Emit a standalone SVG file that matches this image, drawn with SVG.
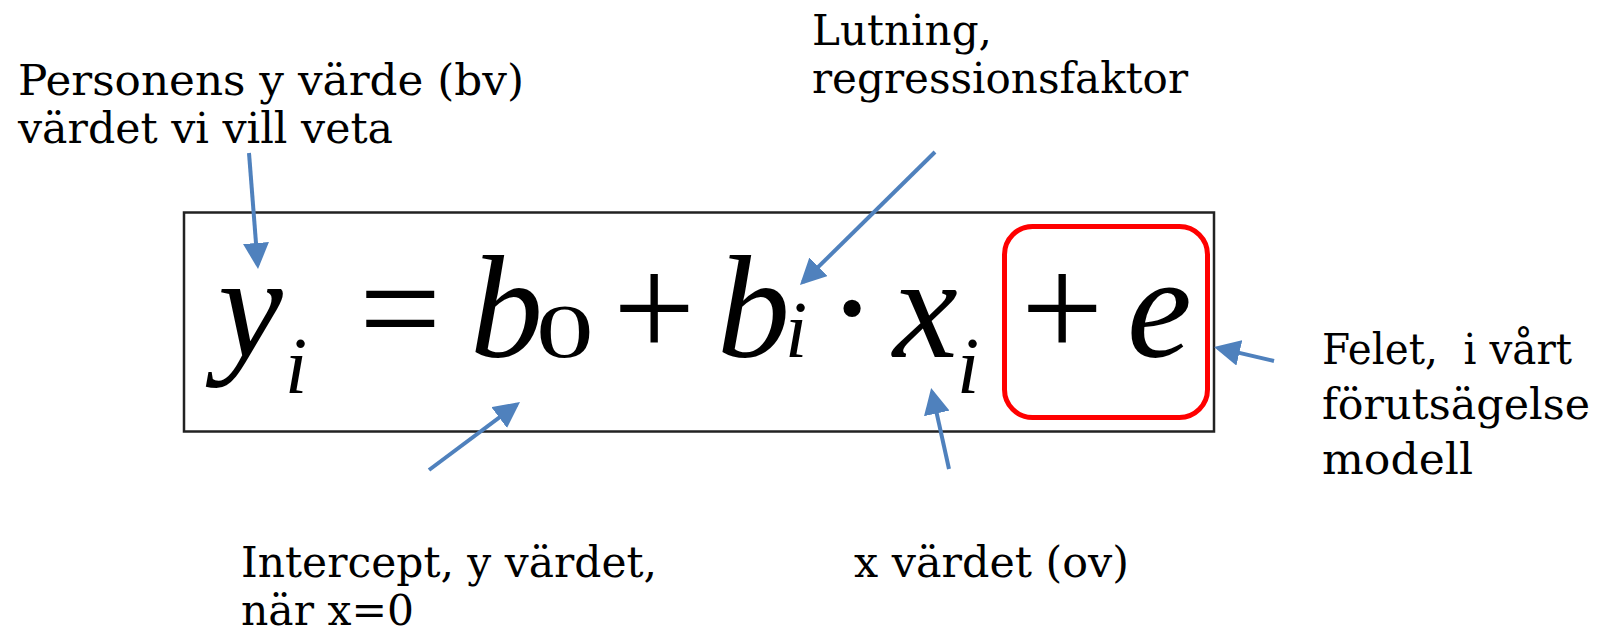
<svg xmlns="http://www.w3.org/2000/svg" width="1602" height="631" viewBox="0 0 1602 631">
<style>
.lbl{font-size:42px;fill:#000}
.arr{stroke:#4F81BD;stroke-width:4;fill:none;marker-end:url(#ah)}
</style>
<defs>
<marker id="ah" markerUnits="userSpaceOnUse" markerWidth="26" markerHeight="26" refX="22" refY="13" orient="auto">
<path d="M0,0 L26,13 L0,26 z" fill="#4F81BD"/>
</marker>
</defs>
<rect width="1602" height="631" fill="#fff"/>
<g id="equation">
<rect x="184" y="212.5" width="1030" height="219" fill="none" stroke="#222" stroke-width="2.5"/>
<text font-family="Liberation Serif, serif" font-size="146" font-style="italic" x="218" y="357">y</text>
<text font-family="Liberation Serif, serif" font-size="80" font-style="italic" x="285" y="393">i</text>
<text font-family="Liberation Serif, serif" font-size="146" x="359" y="357">=</text>
<text font-family="Liberation Serif, serif" font-size="146" font-style="italic" x="470" y="357">b</text>
<text font-family="Liberation Serif, serif" font-size="77" transform="translate(536,357) scale(1.5,1)">0</text>
<text font-family="Liberation Serif, serif" font-size="146" x="613" y="357">+</text>
<text font-family="Liberation Serif, serif" font-size="146" font-style="italic" x="717" y="357">b</text>
<text font-family="Liberation Serif, serif" font-size="80" font-style="italic" x="785" y="357">i</text>
<text font-family="Liberation Serif, serif" font-size="146" x="852" y="357" text-anchor="middle">·</text>
<text font-family="Liberation Serif, serif" font-size="146" font-style="italic" x="893" y="357">x</text>
<text font-family="Liberation Serif, serif" font-size="80" font-style="italic" x="957" y="393">i</text>
<g id="error-term">
<rect x="1004.5" y="226.5" width="203" height="191" rx="28" fill="none" stroke="#FF0000" stroke-width="5"/>
<text font-family="Liberation Serif, serif" font-size="146" x="1021" y="357">+</text>
<text font-family="Liberation Serif, serif" font-size="146" font-style="italic" x="1127" y="357">e</text>
</g>
</g>
<g id="label-y">
<text class="lbl" font-family="DejaVu Serif, serif" x="18" y="95" textLength="506" lengthAdjust="spacingAndGlyphs">Personens y värde (bv)</text>
<text class="lbl" font-family="DejaVu Serif, serif" x="18" y="143" textLength="375" lengthAdjust="spacingAndGlyphs">värdet vi vill veta</text>
</g>
<g id="label-slope">
<text class="lbl" font-family="DejaVu Serif, serif" x="812" y="45" textLength="180" lengthAdjust="spacingAndGlyphs">Lutning,</text>
<text class="lbl" font-family="DejaVu Serif, serif" x="812" y="93" textLength="376" lengthAdjust="spacingAndGlyphs">regressionsfaktor</text>
</g>
<g id="label-error">
<text class="lbl" font-family="DejaVu Serif, serif" x="1322" y="364" textLength="250" lengthAdjust="spacingAndGlyphs">Felet,&#160; i vårt</text>
<text class="lbl" font-family="DejaVu Serif, serif" x="1322" y="419" textLength="268" lengthAdjust="spacingAndGlyphs">förutsägelse</text>
<text class="lbl" font-family="DejaVu Serif, serif" x="1322" y="474" textLength="151" lengthAdjust="spacingAndGlyphs">modell</text>
</g>
<g id="label-intercept">
<text class="lbl" font-family="DejaVu Serif, serif" x="241" y="577" textLength="416" lengthAdjust="spacingAndGlyphs">Intercept, y värdet,</text>
<text class="lbl" font-family="DejaVu Serif, serif" x="241" y="625" textLength="173" lengthAdjust="spacingAndGlyphs">när x=0</text>
</g>
<g id="label-x">
<text class="lbl" font-family="DejaVu Serif, serif" x="854" y="577" textLength="275" lengthAdjust="spacingAndGlyphs">x värdet (ov)</text>
</g>
<g id="connectors">
<line class="arr" x1="249" y1="153" x2="257.7" y2="265"/>
<line class="arr" x1="935" y1="152" x2="802.8" y2="282.2"/>
<line class="arr" x1="429" y1="470" x2="516.8" y2="404.4"/>
<line class="arr" x1="949" y1="469" x2="932" y2="391.9"/>
<line class="arr" x1="1274" y1="361" x2="1217.9" y2="347.9"/>
</g>
</svg>
